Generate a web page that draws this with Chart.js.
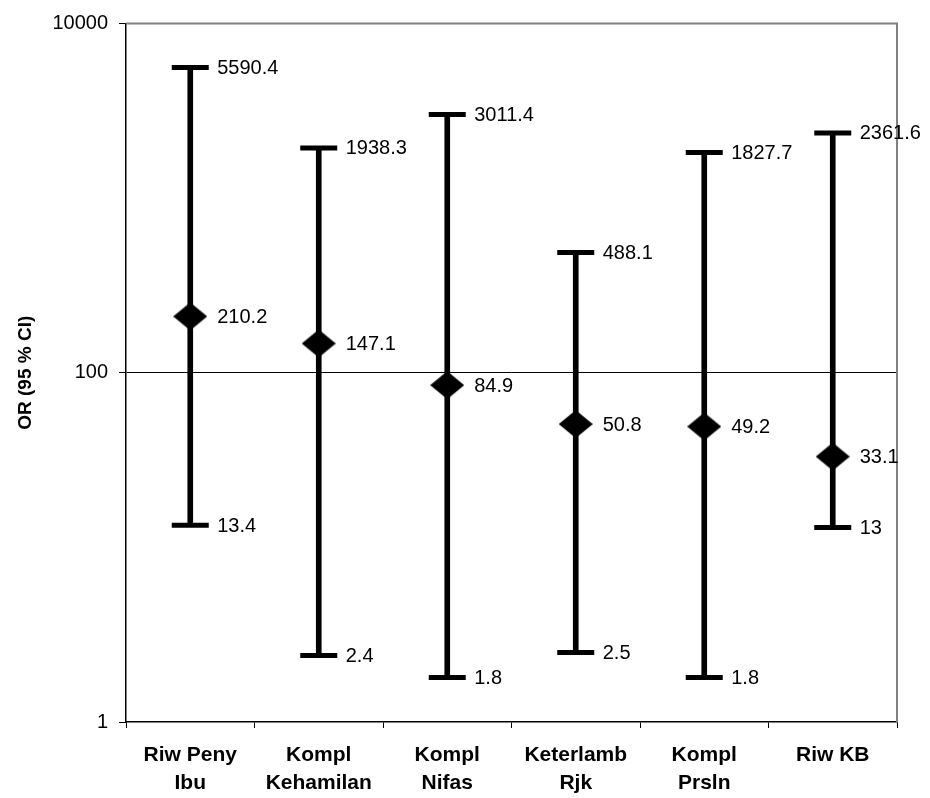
<!DOCTYPE html>
<html>
<head>
<meta charset="utf-8">
<script src="https://cdn.jsdelivr.net/npm/chart.js@4/dist/chart.umd.min.js"></script>
<style>
  html, body { margin: 0; padding: 0; background: #fff; }
  canvas { display: block; }
</style>
</head>
<body>
<canvas id="c" width="930" height="798"></canvas>
<script>
const categories = [
  ["Riw Peny", "Ibu"],
  ["Kompl", "Kehamilan"],
  ["Kompl", "Nifas"],
  ["Keterlamb", "Rjk"],
  ["Kompl", "Prsln"],
  ["Riw KB"]
];
const orValues = [210.2, 147.1, 84.9, 50.8, 49.2, 33.1];
const lowerCI = [13.4, 2.4, 1.8, 2.5, 1.8, 13];
const upperCI = [5590.4, 1938.3, 3011.4, 488.1, 1827.7, 2361.6];
const yTicks = [1, 100, 10000];

const ranges = lowerCI.map((lo, i) => [lo, upperCI[i]]);

// diamond marker
const diamond = document.createElement('canvas');
diamond.width = 34; diamond.height = 28;
(function () {
  const g = diamond.getContext('2d');
  g.fillStyle = '#000';
  g.beginPath();
  g.moveTo(17, 0); g.lineTo(34, 14); g.lineTo(17, 28); g.lineTo(0, 14);
  g.closePath(); g.fill();
})();

const FONT = "'Liberation Sans', Arial, sans-serif";

const valueLabels = {
  id: 'valueLabels',
  afterDatasetsDraw(chart) {
    const ctx = chart.ctx;
    ctx.save();
    ctx.fillStyle = '#000';
    ctx.font = "20px " + FONT;
    ctx.textAlign = 'left';
    ctx.textBaseline = 'middle';
    [1, 2, 3].forEach(di => {
      const meta = chart.getDatasetMeta(di);
      const data = chart.data.datasets[di].data;
      meta.data.forEach((el, i) => {
        ctx.fillText(String(data[i]), el.x + 27, el.y + 1);
      });
    });
    ctx.restore();
  }
};

const frame = {
  id: 'frame',
  beforeDatasetsDraw(chart) {
    const a = chart.chartArea;
    const ctx = chart.ctx;
    ctx.save();
    ctx.strokeStyle = '#808080';
    ctx.lineWidth = 2;
    ctx.beginPath();
    ctx.moveTo(a.left, a.top);
    ctx.lineTo(a.right, a.top);
    ctx.lineTo(a.right, a.bottom);
    ctx.stroke();
    ctx.restore();
  }
};

new Chart(document.getElementById('c'), {
  type: 'bar',
  data: {
    labels: categories,
    datasets: [
      {
        type: 'bar',
        data: ranges,
        backgroundColor: '#000',
        barThickness: 5,
        order: 4
      },
      {
        type: 'line',
        data: upperCI,
        showLine: false,
        pointStyle: 'line',
        pointRadius: 18.5,
        borderColor: '#000',
        borderWidth: 5,
        order: 3
      },
      {
        type: 'line',
        data: lowerCI,
        showLine: false,
        pointStyle: 'line',
        pointRadius: 18.5,
        borderColor: '#000',
        borderWidth: 5,
        order: 2
      },
      {
        type: 'line',
        data: orValues,
        showLine: false,
        pointStyle: diamond,
        pointRadius: 17,
        order: 1
      }
    ]
  },
  options: {
    responsive: false,
    animation: false,
    devicePixelRatio: 1,
    events: [],
    layout: { padding: { left: 0, top: 22, right: 33, bottom: 0 } },
    plugins: {
      legend: { display: false },
      tooltip: { enabled: false },
      title: { display: false }
    },
    scales: {
      x: {
        type: 'category',
        offset: true,
        afterFit(scale) { scale.height = 76; },
        grid: {
          offset: true,
          drawOnChartArea: false,
          tickLength: 6,
          tickColor: '#000',
          lineWidth: 1
        },
        border: { color: '#000', width: 1.5 },
        ticks: {
          color: '#000',
          padding: 13,
          maxRotation: 0,
          autoSkip: false,
          font: { family: FONT, size: 21, weight: 'bold', lineHeight: 1.35 }
        }
      },
      y: {
        type: 'logarithmic',
        min: 1,
        max: 10000,
        afterFit(scale) { scale.width = 126; },
        afterBuildTicks(scale) {
          scale.ticks = yTicks.map(v => ({ value: v }));
        },
        grid: {
          color: ctx => (ctx.tick && ctx.tick.value === 100) ? '#000' : 'rgba(0,0,0,0)',
          lineWidth: 1,
          tickLength: 7,
          tickColor: '#000'
        },
        border: { color: '#000', width: 1.5 },
        ticks: {
          color: '#000',
          padding: 11,
          font: { family: FONT, size: 20 },
          callback: v => String(v)
        },
        title: {
          display: true,
          text: 'OR (95 % CI)',
          color: '#000',
          padding: { top: 14, bottom: 0 },
          font: { family: FONT, size: 19, weight: 'bold' }
        }
      }
    }
  },
  plugins: [frame, valueLabels]
});
</script>
</body>
</html>
